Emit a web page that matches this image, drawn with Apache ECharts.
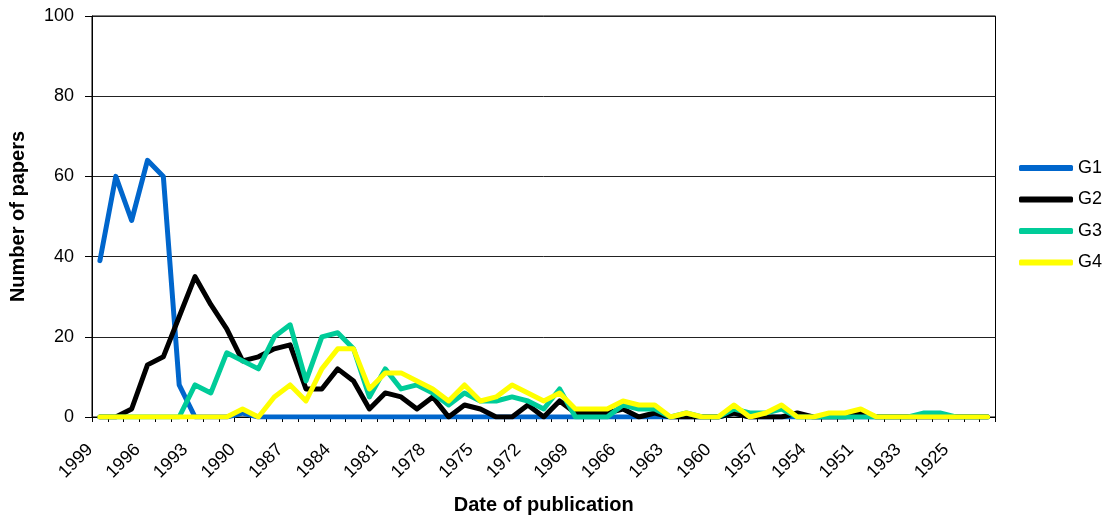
<!DOCTYPE html>
<html>
<head>
<meta charset="utf-8">
<script src="https://cdn.jsdelivr.net/npm/echarts@6/dist/echarts.min.js"></script>
<style>html,body{margin:0;padding:0;background:#fff}#c{width:1111px;height:520px}</style>
</head>
<body>
<div id="c"></div>
<script>
var categories = ['1999','1998','1997','1996','1995','1994','1993','1992','1991','1990',
  '1989','1988','1987','1986','1985','1984','1983','1982','1981','1980',
  '1979','1978','1977','1976','1975','1974','1973','1972','1971','1970',
  '1969','1968','1967','1966','1965','1964','1963','1962','1961','1960',
  '1959','1958','1957','1956','1955','1954','1953','1952','1951','1950',
  '1940','1933','1930','1927','1925','1920','1900'];
var g1 = [39,60,49,64,60,8,0,0,0,1, 0,0,0,0,0,0,0,0,0,0, 0,0,0,0,0,0,0,0,0,0, 0,0,0,0,0,0,0,0,0,0, 1,0,0,0,0,0,0,0,0,0, 0,0,0,0,0,0,0];
var g2 = [0,0,2,13,15,25,35,28,22,14, 15,17,18,7,7,12,9,2,6,5, 2,5,0,3,2,0,0,3,0,4, 1,1,1,2,0,1,0,0,0,0, 1,0,0,0,1,0,0,0,1,0, 0,0,0,0,0,0,0];
var g3 = [0,0,0,0,0,0,8,6,16,14, 12,20,23,9,20,21,17,5,12,7, 8,6,3,6,4,4,5,4,2,7, 0,0,0,3,2,2,0,1,0,0, 2,1,1,2,0,0,0,0,0,0, 0,0,1,1,0,0,0];
var g4 = [0,0,0,0,0,0,0,0,0,2, 0,5,8,4,12,17,17,7,11,11, 9,7,4,8,4,5,8,6,4,6, 2,2,2,4,3,3,0,1,0,0, 3,0,1,3,0,0,1,1,2,0, 0,0,0,0,0,0,0];
var yTicks = [0,20,40,60,80,100];

var chart = echarts.init(document.getElementById('c'), null, {renderer:'canvas'});
var font = 'Liberation Sans, Arial, sans-serif';
function mk(name, data, color){
  return {name:name, type:'line', data:data, symbol:'none', smooth:false,
    lineStyle:{color:color, width:5, cap:'round', join:'round'}, itemStyle:{color:color}};
}
chart.setOption({
  animation:false,
  grid:{left:91, right:115.5, top:16, bottom:102, show:true, borderColor:'#000', borderWidth:1, backgroundColor:'transparent'},
  legend:{orient:'vertical', left:1019, top:158, padding:0, itemWidth:54, itemHeight:6, itemGap:11.5, icon:'roundRect',
    textStyle:{fontFamily:font, fontSize:18, color:'#000', lineHeight:20},
    data:['G1','G2','G3','G4']},
  xAxis:{type:'category', data:categories, boundaryGap:true,
    name:'Date of publication', nameLocation:'middle', nameGap:78,
    nameTextStyle:{fontFamily:font, fontSize:20, fontWeight:'bold', color:'#000'},
    axisLine:{lineStyle:{color:'#000', width:1}},
    axisTick:{show:true, interval:0, length:5, lineStyle:{color:'#000'}},
    axisLabel:{interval:2, rotate:45, margin:20, padding:[0,14,0,0], fontFamily:font, fontSize:18, color:'#000'},
    splitLine:{show:false}},
  yAxis:{type:'value', min:0, max:100, interval:20,
    name:'Number of papers', nameLocation:'middle', nameGap:64,
    nameTextStyle:{fontFamily:font, fontSize:20, fontWeight:'bold', color:'#000'},
    axisLine:{show:true, lineStyle:{color:'#000', width:1}},
    axisTick:{show:true, length:7, lineStyle:{color:'#000'}},
    axisLabel:{margin:18, fontFamily:font, fontSize:18, color:'#000',
      formatter:function(v){return yTicks.indexOf(v)>=0 ? String(v) : '';}},
    splitLine:{show:true, lineStyle:{color:'#222', width:1}}},
  series:[mk('G1',g1,'#0066CC'), mk('G2',g2,'#000000'), mk('G3',g3,'#00CC99'), mk('G4',g4,'#FFFF00')]
});
</script>
</body>
</html>
